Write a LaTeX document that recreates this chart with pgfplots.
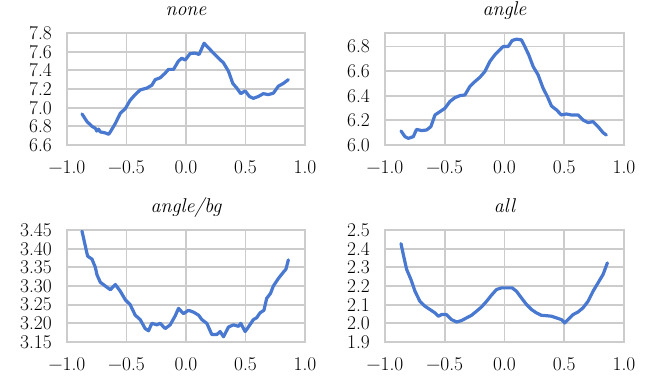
\documentclass[border=0pt]{standalone}
\usepackage{fontspec}
\setmainfont{Latin Modern Roman}
\usepackage{pgfplots}
\pgfplotsset{compat=1.18}
\definecolor{lineblue}{RGB}{72,120,208}
\definecolor{gridgray}{RGB}{204,204,204}
\pgfplotsset{
  panel/.style={
    scale only axis, width=238bp, height=112bp,
    anchor=south west,
    xmin=-1, xmax=1, xtick={-1,-0.5,0,0.5,1},
    xticklabels={−1.0,−0.5,0.0,0.5,1.0},
    xticklabel style={inner sep=0pt, yshift=-15bp},
    yticklabel style={inner sep=0pt, xshift=-15bp},
    major tick length=0pt,
    grid=major,
    major grid style={gridgray, line width=1.8bp},
    axis line style={gridgray, line width=2.2bp},
    tick label style={font=\fontsize{19.5}{22}\selectfont},
    title style={font=\fontsize{20}{24}\selectfont\itshape, at={(0.5,1)}, anchor=base, inner sep=0pt, yshift=12bp},
  },
  curve/.style={lineblue, line width=3.2bp, line join=round, line cap=round, mark=none},
}
\begin{document}
\begin{tikzpicture}
\useasboundingbox (0,0) rectangle (650bp,377bp);
% top-left: none
\begin{axis}[panel, at={(67bp,232bp)}, title={none},
  ymin=6.6, ymax=7.8, ytick={6.6,6.8,7.0,7.2,7.4,7.6,7.8},
  yticklabels={6.6,6.8,7.0,7.2,7.4,7.6,7.8}]
\addplot[curve] coordinates {
(-0.874,6.933)(-0.832,6.851)(-0.790,6.80)(-0.762,6.779)(-0.75,6.75)(-0.735,6.77)(-0.72,6.74)(-0.68,6.73)(-0.65,6.715)
(-0.636,6.74)(-0.594,6.83)(-0.552,6.94)(-0.51,6.99)(-0.469,7.08)(-0.427,7.14)(-0.385,7.19)
(-0.329,7.21)(-0.287,7.24)(-0.259,7.30)(-0.217,7.32)(-0.175,7.37)(-0.147,7.41)(-0.105,7.41)
(-0.063,7.50)(-0.035,7.53)(-0.007,7.51)(0.035,7.58)(0.077,7.585)(0.11,7.57)(0.152,7.69)
(0.189,7.64)(0.231,7.585)(0.273,7.53)(0.315,7.48)(0.357,7.39)(0.393,7.26)(0.427,7.21)
(0.46,7.15)(0.497,7.18)(0.533,7.12)(0.566,7.10)(0.608,7.12)(0.65,7.15)(0.692,7.14)
(0.734,7.155)(0.776,7.23)(0.818,7.26)(0.86,7.30)
};
\end{axis}
% top-right: angle
\begin{axis}[panel, at={(385bp,232bp)}, width=239bp, title={angle},
  ymin=6.0, ymax=6.91, ytick={6.0,6.2,6.4,6.6,6.8},
  yticklabels={6.0,6.2,6.4,6.6,6.8}]
\addplot[curve] coordinates {
(-0.866,6.114)(-0.833,6.068)(-0.805,6.054)(-0.763,6.068)(-0.736,6.127)(-0.694,6.117)
(-0.652,6.122)(-0.616,6.149)(-0.582,6.244)(-0.54,6.271)(-0.499,6.298)(-0.457,6.353)
(-0.415,6.385)(-0.373,6.401)(-0.331,6.407)(-0.29,6.475)(-0.248,6.515)(-0.206,6.55)
(-0.164,6.597)(-0.123,6.678)(-0.081,6.732)(-0.039,6.773)(-0.011,6.80)(0.031,6.80)
(0.064,6.849)(0.1,6.86)(0.142,6.854)(0.17,6.80)(0.203,6.732)(0.24,6.637)(0.281,6.57)
(0.323,6.461)(0.359,6.393)(0.393,6.317)(0.435,6.285)(0.476,6.244)(0.518,6.252)
(0.56,6.244)(0.616,6.244)(0.657,6.203)(0.699,6.182)(0.741,6.19)(0.783,6.149)
(0.825,6.10)(0.852,6.081)
};
\end{axis}
% bottom-left: angle/bg
\begin{axis}[panel, at={(67bp,35bp)}, title={angle/bg},
  ymin=3.15, ymax=3.45, ytick={3.15,3.20,3.25,3.30,3.35,3.40,3.45},
  yticklabels={3.15,3.20,3.25,3.30,3.35,3.40,3.45}]
\addplot[curve] coordinates {
(-0.874,3.447)(-0.855,3.42)(-0.827,3.38)(-0.79,3.372)(-0.762,3.35)(-0.748,3.33)
(-0.72,3.31)(-0.678,3.30)(-0.636,3.29)(-0.594,3.304)(-0.552,3.286)(-0.51,3.263)
(-0.469,3.25)(-0.427,3.222)(-0.385,3.21)(-0.343,3.186)(-0.315,3.18)(-0.287,3.20)
(-0.245,3.196)(-0.217,3.20)(-0.175,3.186)(-0.133,3.196)(-0.091,3.22)(-0.063,3.24)
(-0.021,3.226)(0.021,3.235)(0.063,3.23)(0.105,3.222)(0.133,3.21)(0.175,3.20)
(0.217,3.17)(0.259,3.17)(0.287,3.178)(0.315,3.164)(0.357,3.19)(0.399,3.196)
(0.441,3.192)(0.46,3.20)(0.497,3.178)(0.524,3.19)(0.566,3.21)(0.594,3.215)
(0.622,3.228)(0.655,3.235)(0.678,3.267)(0.71,3.28)(0.734,3.30)(0.776,3.32)
(0.818,3.337)(0.84,3.345)(0.86,3.37)
};
\end{axis}
% bottom-right: all
\begin{axis}[panel, at={(385bp,35bp)}, width=239bp, title={all},
  ymin=1.9, ymax=2.5, ytick={1.9,2.0,2.1,2.2,2.3,2.4,2.5},
  yticklabels={1.9,2.0,2.1,2.2,2.3,2.4,2.5}]
\addplot[curve] coordinates {
(-0.866,2.427)(-0.847,2.369)(-0.819,2.289)(-0.783,2.235)(-0.749,2.172)(-0.708,2.118)
(-0.666,2.092)(-0.624,2.074)(-0.582,2.056)(-0.554,2.038)(-0.526,2.047)(-0.485,2.047)
(-0.443,2.02)(-0.401,2.007)(-0.359,2.015)(-0.318,2.029)(-0.276,2.043)(-0.234,2.065)
(-0.192,2.088)(-0.15,2.118)(-0.109,2.151)(-0.067,2.181)(-0.025,2.19)(0.017,2.19)
(0.064,2.19)(0.1,2.172)(0.142,2.136)(0.184,2.101)(0.226,2.074)(0.267,2.056)
(0.309,2.043)(0.351,2.041)(0.393,2.038)(0.435,2.029)(0.476,2.02)(0.504,2.002)
(0.532,2.02)(0.574,2.047)(0.616,2.061)(0.657,2.083)(0.699,2.118)(0.741,2.172)
(0.783,2.217)(0.825,2.262)(0.861,2.324)
};
\end{axis}
\end{tikzpicture}
\end{document}
